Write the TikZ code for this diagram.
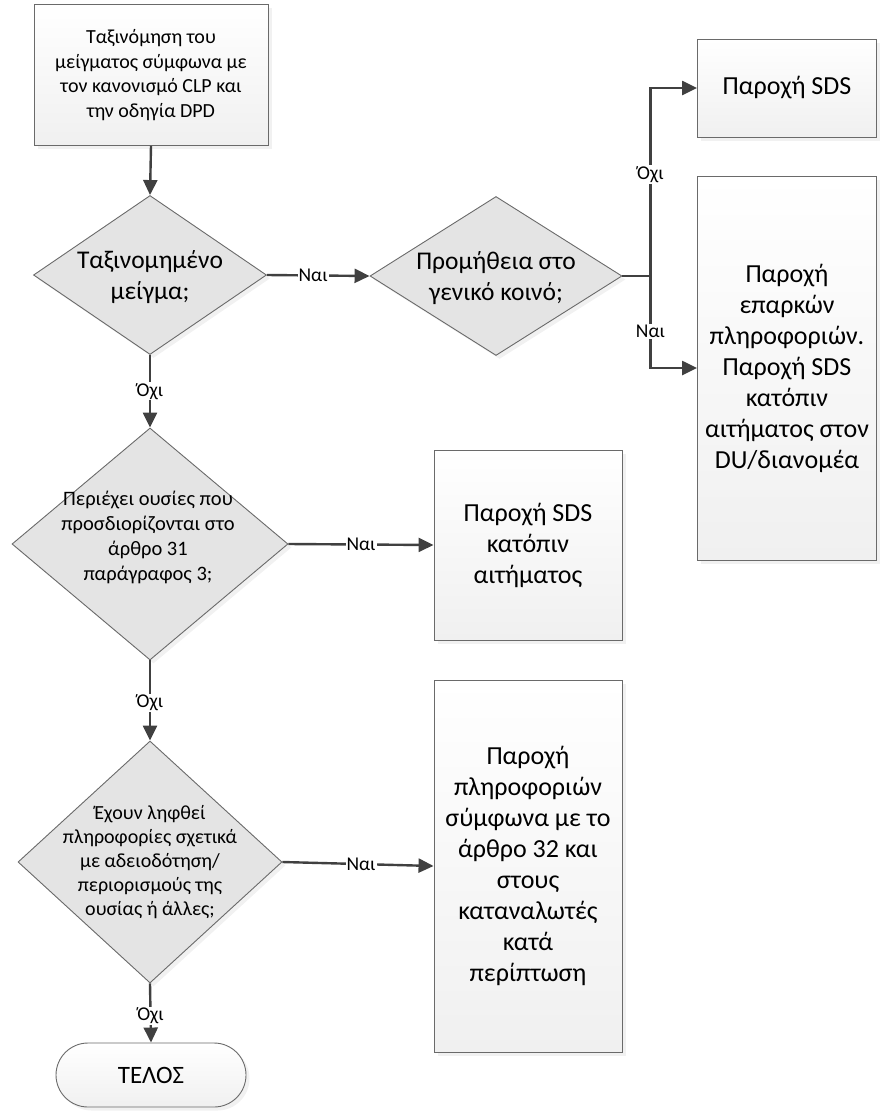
\documentclass[tikz,border=0pt]{standalone}
\usepackage{fontspec}
\setmainfont{Carlito}
\usetikzlibrary{shapes.geometric,arrows.meta,shadows}
\definecolor{edgecol}{HTML}{404040}
\definecolor{rimcol}{HTML}{6A6A6A}
\definecolor{shadowcol}{HTML}{E3E3E3}
\definecolor{boxtop}{HTML}{FFFFFF}
\definecolor{boxbottom}{HTML}{F0F0F0}
\definecolor{diafill}{HTML}{E4E4E4}
\begin{document}
\begin{tikzpicture}[x=1pt,y=-1pt,
  every node/.style={inner sep=0pt},
  shadowed/.style={drop shadow={shadow xshift=3.5pt,shadow yshift=-3.5pt,fill=shadowcol}},
  procbox/.style={rectangle,draw=rimcol,line width=0.9pt,top color=boxtop,bottom color=boxbottom,shadowed,align=center},
  decision/.style={diamond,draw=rimcol,line width=0.9pt,fill=diafill,shadowed},
  endbox/.style={rectangle,rounded corners=32pt,draw=rimcol,line width=0.9pt,top color=boxtop,bottom color=boxbottom,shadowed},
  conn/.style={draw=edgecol,line width=2.4pt,-{Triangle[length=15pt,width=14pt]}},
  lbl/.style={fill=white,inner sep=1pt,font=\fontsize{19.5}{21}\selectfont},
  bigtxt/.style={align=center,font=\fontsize{25.5}{31}\selectfont},
  smalltxt/.style={align=center,font=\fontsize{20.5}{25}\selectfont},
  outtxt/.style={font=\fontsize{26}{31}\selectfont},
]
\useasboundingbox (0,0) rectangle (879,1111);

% start: classification step
\node[procbox,minimum width=234pt,minimum height=141pt,font=\fontsize{20}{24.5}\selectfont] (classify) at (151,75)
  {Ταξινόμηση του\\μείγματος σύμφωνα με\\τον κανονισμό CLP και\\την οδηγία DPD};

% decisions
\node[decision,minimum width=233pt,minimum height=159pt] (d1) at (150,275) {};
\node[bigtxt] (t1) at (150,277) {Ταξινομημένο\\μείγμα;};

\node[decision,minimum width=252pt,minimum height=159pt] (d2) at (496,276) {};
\node[bigtxt] (t2) at (496,278) {Προμήθεια στο\\γενικό κοινό;};

\node[decision,minimum width=276pt,minimum height=232pt] (d3) at (150,544) {};
\node[smalltxt] (t3) at (148,537) {Περιέχει ουσίες που\\προσδιορίζονται στο\\άρθρο 31\\παράγραφος 3;};

\node[decision,minimum width=264pt,minimum height=242pt] (d4) at (150,862) {};
\node[smalltxt,font=\fontsize{20}{24}\selectfont] (t4) at (d4) {Έχουν ληφθεί\\πληροφορίες σχετικά\\με αδειοδότηση/\\περιορισμούς της\\ουσίας ή άλλες;};

% outcome boxes
\node[procbox,outtxt,minimum width=179pt,minimum height=98pt] (sds) at (787,88) {Παροχή SDS};
\node[procbox,outtxt,minimum width=179pt,minimum height=384pt] (info) at (787,368)
  {Παροχή\\επαρκών\\πληροφοριών.\\Παροχή SDS\\κατόπιν\\αιτήματος στον\\DU/διανομέα};
\node[procbox,outtxt,minimum width=188pt,minimum height=190pt] (req) at (528,545)
  {Παροχή SDS\\κατόπιν\\αιτήματος};
\node[procbox,outtxt,minimum width=188pt,minimum height=372pt] (art32) at (528,866)
  {Παροχή\\πληροφοριών\\σύμφωνα με το\\άρθρο 32 και\\στους\\καταναλωτές\\κατά\\περίπτωση};

% end
\node[endbox,minimum width=190pt,minimum height=64pt,font=\fontsize{25}{28}\selectfont] (fin) at (151,1075) {ΤΕΛΟΣ};

% connectors
\draw[conn] (classify.south) -- (d1.north);
\draw[conn] (d1.east) -- node[lbl,pos=0.45] {Ναι} (d2.west);
\draw[draw=edgecol,line width=2.4pt] (d2.east) -- ++(28,0) coordinate (split);
\draw[conn] (split) |- node[lbl,pos=0.27] {Όχι} (sds.west);
\draw[conn] (split) |- node[lbl,pos=0.3] {Ναι} (info.west);
\draw[conn] (d1.south) -- node[lbl,pos=0.5] {Όχι} (d3.north);
\draw[conn] (d3.east) -- node[lbl,pos=0.5] {Ναι} (req.west);
\draw[conn] (d3.south) -- node[lbl,pos=0.53] {Όχι} (d4.north);
\draw[conn] (d4.east) -- node[lbl,pos=0.52] {Ναι} (art32.west);
\draw[conn] (d4.south) -- node[lbl,pos=0.55] {Όχι} (fin.north);
\end{tikzpicture}
\end{document}
